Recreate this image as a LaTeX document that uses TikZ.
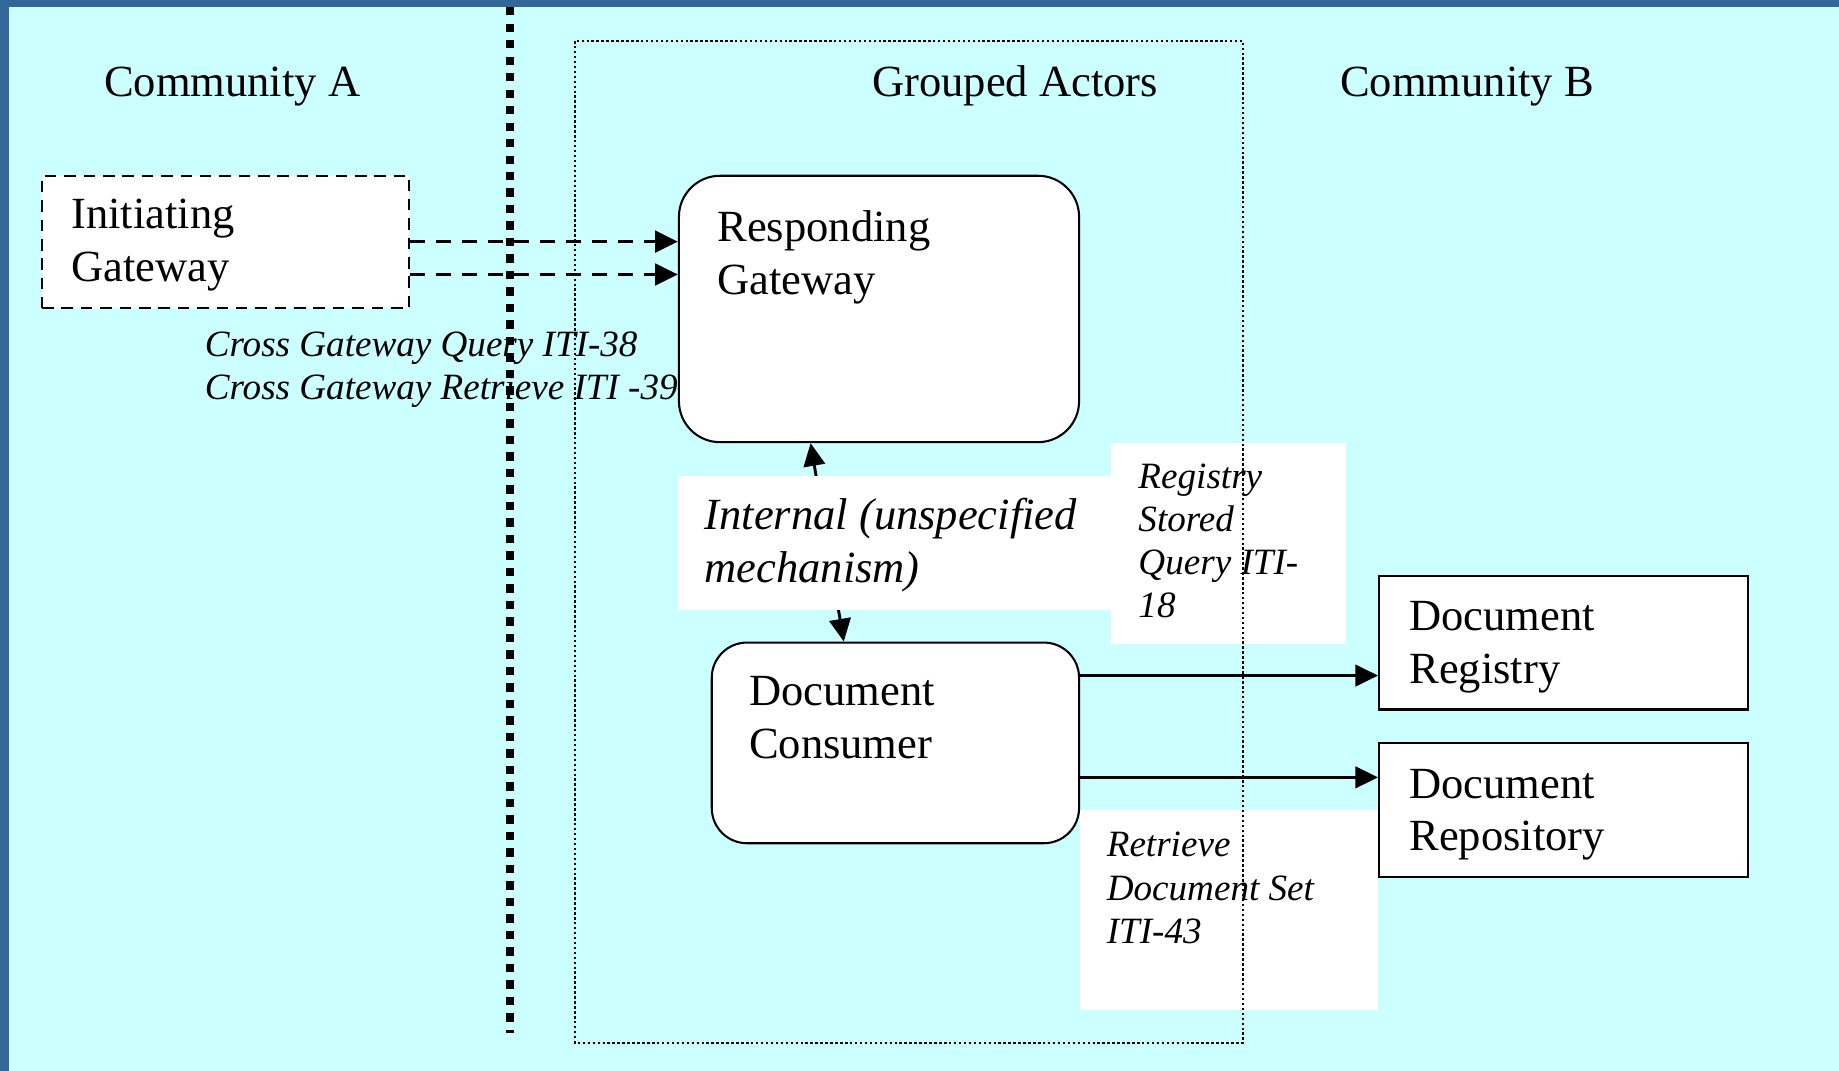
\documentclass[tikz,border=0pt]{standalone}
\usepackage{fontspec}
\setmainfont{Liberation Serif}
\usetikzlibrary{arrows.meta}
\definecolor{sky}{HTML}{CCFFFF}
\definecolor{frameblue}{RGB}{51,102,153}
\newcommand{\actorfont}{\fontsize{10.8}{12.8}\selectfont}
\newcommand{\msgfont}{\fontsize{9}{10.45}\selectfont\itshape}
\tikzset{
	actor/.style={draw,fill=white,line width=.5pt,inner sep=0pt,anchor=north west},
	ractor/.style={actor,rounded corners=.35cm},
	dactor/.style={actor,dash pattern=on 2.8pt off 1.9pt},
	note/.style={fill=white,inner sep=0pt,anchor=north west},
	intext/.style={anchor=north west,align=left,inner sep=0pt},
	title/.style={anchor=base west,inner sep=0pt,font=\actorfont},
	arr/.style={line width=.7pt,-{Triangle[length=5.5pt,width=5.2pt]}},
	darr/.style={arr,line width=.8pt,dash pattern=on 3.6pt off 2.7pt},
	barr/.style={line width=.7pt,{Triangle[length=5.5pt,width=5.2pt]}-{Triangle[length=5.5pt,width=5.2pt]}}
}
\begin{document}
\begin{tikzpicture}[x=0.01cm,y=-0.01cm]
\useasboundingbox (0,0) rectangle (1568,913);
%background
\fill[sky] (0,0) rectangle (1568,913);
\fill[frameblue] (0,0) rectangle (1568,6);
\fill[frameblue] (0,0) rectangle (8,913);
%titles
\node[title] (comA) at (88,82) {Community A};
\node[title] (grouped) at (743,82) {Grouped Actors};
\node[title] (comB) at (1142,82) {Community B};
%message notes
\node[note,minimum width=2cm,minimum height=1.71cm,
	label={[intext,font=\msgfont,inner xsep=.23cm,inner ysep=.18cm]north west:Registry\\Stored\\Query ITI-\\18}] (regquery) at (947,377) {};
\node[note,minimum width=2.54cm,minimum height=1.7cm,
	label={[intext,font=\msgfont,inner xsep=.23cm,inner ysep=.19cm]north west:Retrieve\\Document Set\\ITI-43}] (retrieve) at (920,690) {};
%grouped actors
\draw[line width=.5pt,dash pattern=on .6pt off .6pt] (490,35) rectangle (1060,889);
%community border
\draw[line width=1.95pt,dash pattern=on 2pt off 2pt] (435,6) -- (435,881);
%actors
\node[dactor,minimum width=3.13cm,minimum height=1.13cm,
	label={[intext,font=\actorfont,inner xsep=.25cm,inner ysep=.2cm]north west:Initiating\\Gateway}] (initgw) at (35,149) {};
\node[ractor,minimum width=3.41cm,minimum height=2.27cm,
	label={[intext,font=\actorfont,inner xsep=.33cm,inner ysep=.3cm]north west:Responding\\Gateway}] (respgw) at (578,149) {};
\node[ractor,rounded corners=.3cm,minimum width=3.13cm,minimum height=1.71cm,
	label={[intext,font=\actorfont,inner xsep=.32cm,inner ysep=.29cm]north west:Document\\Consumer}] (consumer) at (606,547) {};
\node[actor,minimum width=3.14cm,minimum height=1.14cm,
	label={[intext,font=\actorfont,inner xsep=.26cm,inner ysep=.22cm]north west:Document\\Registry}] (registry) at (1175,490) {};
\node[actor,minimum width=3.14cm,minimum height=1.14cm,
	label={[intext,font=\actorfont,inner xsep=.26cm,inner ysep=.22cm]north west:Document\\Repository}] (repository) at (1175,633) {};
%transactions
\draw[darr] ([yshift=-.57cm]initgw.north east) -- ([yshift=-.57cm]initgw.north east -| respgw.west);
\draw[darr] ([yshift=-.85cm]initgw.north east) -- ([yshift=-.85cm]initgw.north east -| respgw.west);
\node[intext,font=\msgfont] (xgw) at (174,282) {Cross Gateway Query ITI-38\\Cross Gateway Retrieve ITI -39};
\draw[barr] (respgw.243) -- (consumer.117);
\node[note,minimum width=3.7cm,minimum height=1.14cm,
	label={[intext,font=\actorfont\itshape,inner xsep=.23cm,inner ysep=.19cm]north west:Internal (unspecified\\mechanism)}] (internal) at (577,405) {};
\draw[arr] ([yshift=-.29cm]consumer.north east) -- ([yshift=-.29cm]consumer.north east -| registry.west);
\draw[arr] ([yshift=.57cm]consumer.south east) -- ([yshift=.57cm]consumer.south east -| repository.west);
\end{tikzpicture}
\end{document}
